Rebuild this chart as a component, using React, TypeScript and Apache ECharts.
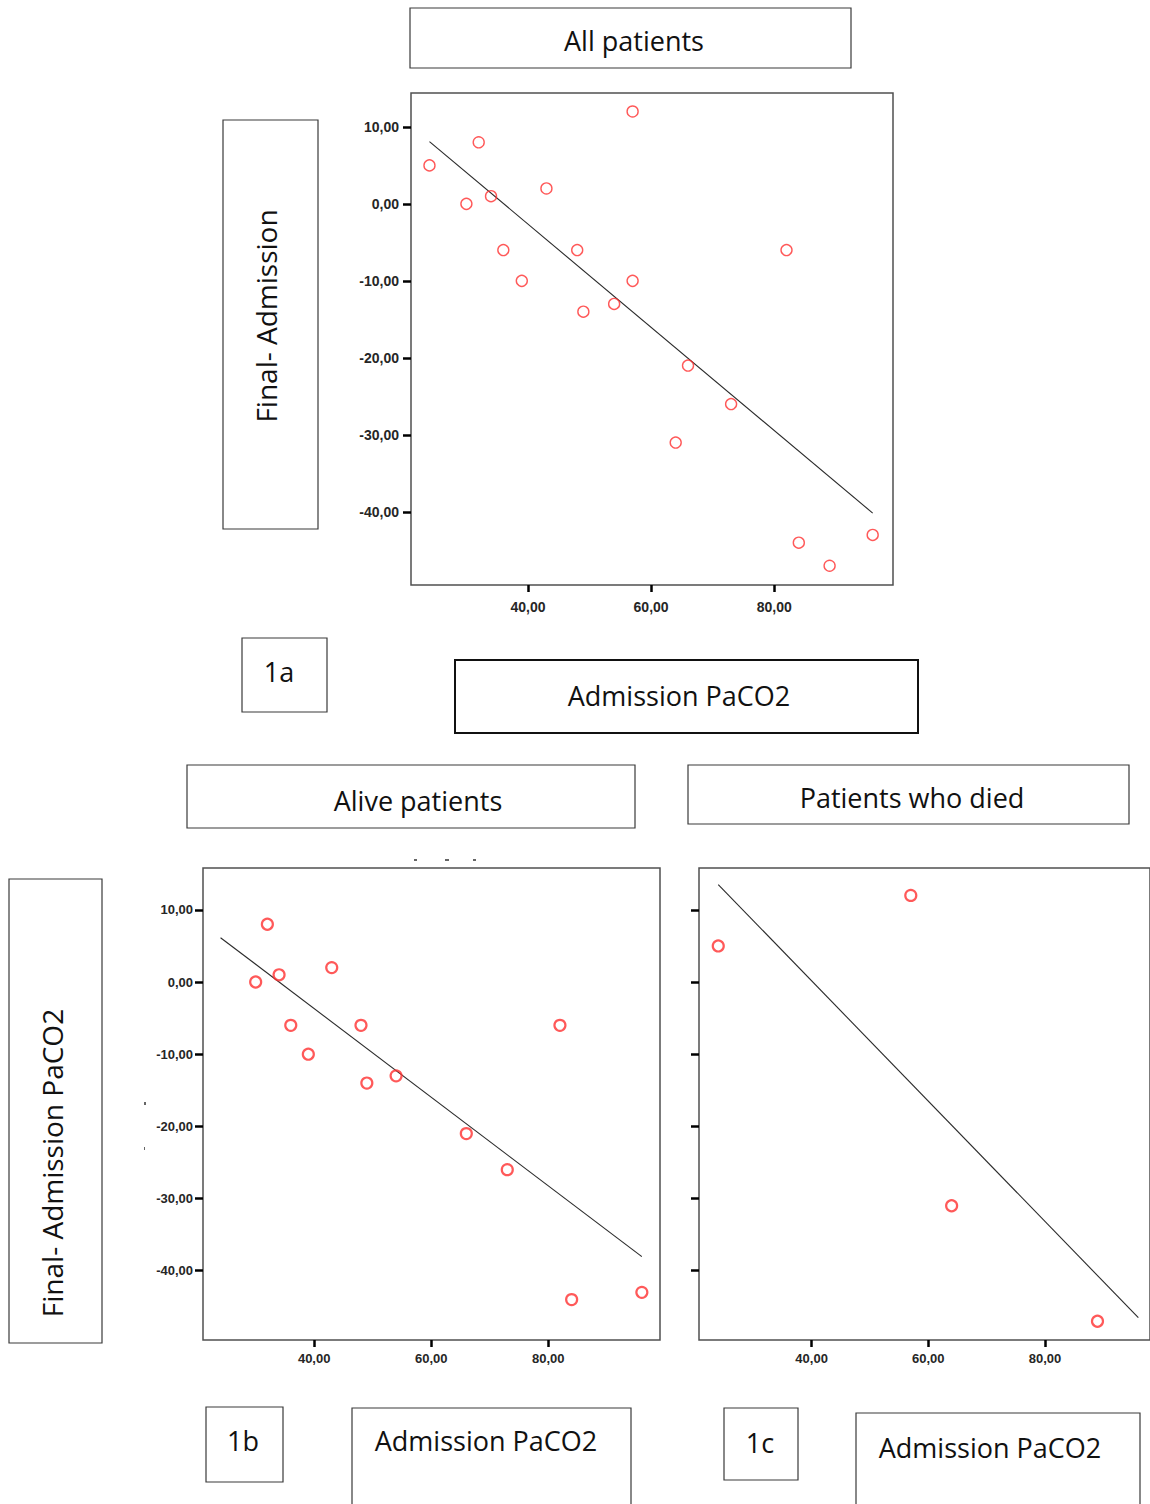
import React, { useEffect, useRef } from "react";
import * as echarts from "echarts";

// ---- Data ----
// 1a: all patients (Admission PaCO2, Final - Admission PaCO2)
const allX = [24, 30, 32, 34, 36, 39, 43, 48, 49, 54, 57, 57, 64, 66, 73, 82, 84, 89, 96];
const allY = [5, 0, 8, 1, -6, -10, 2, -6, -14, -13, 12, -10, -31, -21, -26, -6, -44, -47, -43];
// 1b: alive patients
const aliveX = [30, 32, 34, 36, 39, 43, 48, 49, 54, 66, 73, 82, 84, 96];
const aliveY = [0, 8, 1, -6, -10, 2, -6, -14, -13, -21, -26, -6, -44, -43];
// 1c: patients who died
const diedX = [24, 57, 64, 89];
const diedY = [5, 12, -31, -47];

// tick values
const xTicks = [40, 60, 80];
const yTicks = [10, 0, -10, -20, -30, -40];

const pairs = (xs: number[], ys: number[]) => xs.map((x, i) => [x, ys[i]]);

// least-squares fit line over the full admission range (as the original software draws it)
function fitLine(xs: number[], ys: number[], x0: number, x1: number) {
  const n = xs.length;
  const mx = xs.reduce((a, b) => a + b, 0) / n;
  const my = ys.reduce((a, b) => a + b, 0) / n;
  let sxy = 0;
  let sxx = 0;
  for (let i = 0; i < n; i++) {
    sxy += (xs[i] - mx) * (ys[i] - my);
    sxx += (xs[i] - mx) * (xs[i] - mx);
  }
  const b = sxy / sxx;
  const a = my - b * mx;
  return [
    [x0, a + b * x0],
    [x1, a + b * x1],
  ];
}

const fmt = (v: number) => v.toFixed(2).replace(".", ",");

const BOX_FONT = "'Open Sans', 'Noto Sans', sans-serif";
const TICK_FONT = "'Liberation Sans', Arial, sans-serif";

function box(x: number, y: number, w: number, h: number, lw = 1.2, stroke = "#3a3a3a") {
  return {
    type: "rect",
    shape: { x, y, width: w, height: h },
    style: { fill: "#fff", stroke, lineWidth: lw },
    z: 1,
  };
}
function label(text: string, x: number, y: number, size = 27, rotation = 0) {
  return {
    type: "text",
    x,
    y,
    rotation,
    style: {
      text,
      fill: "#111",
      fontSize: size,
      fontFamily: BOX_FONT,
      align: "center",
      verticalAlign: "middle",
    },
    z: 2,
  };
}
function speck(x: number, y: number, w: number, h: number) {
  return {
    type: "rect",
    shape: { x, y, width: w, height: h },
    style: { fill: "#666" },
    z: 2,
  };
}

export default function App() {
  const ref = useRef<HTMLDivElement>(null);

  useEffect(() => {
    if (!ref.current) return;
    const chart = echarts.init(ref.current, undefined, { renderer: "svg" });
    const x0 = Math.min(...allX);
    const x1 = Math.max(...allX);

    const gridBase = {
      show: true,
      borderColor: "#505050",
      borderWidth: 1.5,
      backgroundColor: "rgba(0,0,0,0)",
    };

    const xAxisFor = (gi: number, min: number, max: number, size: number, margin: number) => ({
      type: "value",
      gridIndex: gi,
      min,
      max,
      axisLine: { show: false, onZero: false },
      splitLine: { show: false },
      axisTick: {
        show: true,
        length: 7,
        customValues: xTicks,
        lineStyle: { color: "#000", width: 2.5 },
      },
      axisLabel: {
        customValues: xTicks,
        formatter: fmt,
        fontSize: size,
        fontWeight: "bold",
        fontFamily: TICK_FONT,
        color: "#262626",
        margin,
      },
    });
    const yAxisFor = (gi: number, min: number, max: number, size: number, margin: number, showLabel: boolean) => ({
      type: "value",
      gridIndex: gi,
      min,
      max,
      axisLine: { show: false, onZero: false },
      splitLine: { show: false },
      axisTick: {
        show: true,
        length: 8,
        customValues: yTicks,
        lineStyle: { color: "#000", width: 2.5 },
      },
      axisLabel: {
        show: showLabel,
        customValues: yTicks,
        formatter: fmt,
        fontSize: size,
        fontWeight: "bold",
        fontFamily: TICK_FONT,
        color: "#262626",
        margin,
      },
    });

    const scatter = (gi: number, data: number[][], size: number, bw: number) => ({
      type: "scatter",
      xAxisIndex: gi,
      yAxisIndex: gi,
      data,
      symbol: "circle",
      symbolSize: size,
      itemStyle: { color: "rgba(255,255,255,0)", borderColor: "#ff3030", borderWidth: bw },
      z: 3,
    });
    const line = (gi: number, data: number[][]) => ({
      type: "line",
      xAxisIndex: gi,
      yAxisIndex: gi,
      data,
      showSymbol: false,
      symbol: "none",
      lineStyle: { color: "#2a2a2a", width: 1.1 },
      z: 2,
    });

    const option = {
      animation: false,
      backgroundColor: "#fff",
      grid: [
        { ...gridBase, left: 411, top: 93, width: 482, height: 492 },
        { ...gridBase, left: 203, top: 868, width: 457, height: 472 },
        { ...gridBase, left: 699, top: 868, width: 452, height: 472 },
      ],
      xAxis: [
        xAxisFor(0, 21, 99.3, 14, 15),
        xAxisFor(1, 21, 99.1, 13, 12),
        xAxisFor(2, 20.7, 98, 13, 12),
      ],
      yAxis: [
        yAxisFor(0, -49.5, 14.4, 14, 12, true),
        yAxisFor(1, -49.6, 15.8, 13, 10, true),
        yAxisFor(2, -49.6, 15.8, 13, 10, false),
      ],
      series: [
        line(0, fitLine(allX, allY, x0, x1)),
        scatter(0, pairs(allX, allY), 11, 1.4),
        line(1, fitLine(aliveX, aliveY, x0, x1)),
        scatter(1, pairs(aliveX, aliveY), 11, 2.2),
        line(2, fitLine(diedX, diedY, x0, x1)),
        scatter(2, pairs(diedX, diedY), 11, 2.2),
      ],
      graphic: {
        elements: [
          box(410, 8, 441, 60),
          label("All patients", 634, 40),
          box(223, 120, 95, 409),
          label("Final- Admission", 266, 316, 28, Math.PI / 2),
          box(242, 638, 85, 74),
          label("1a", 279, 671),
          box(455, 660, 463, 73, 2, "#111"),
          label("Admission PaCO2", 679, 695),
          box(187, 765, 448, 63),
          label("Alive patients", 418, 800),
          box(688, 765, 441, 59),
          label("Patients who died", 912, 797),
          box(9, 879, 93, 464),
          label("Final- Admission PaCO2", 52, 1163, 28, Math.PI / 2),
          box(206, 1407, 77, 75),
          label("1b", 243, 1440),
          box(352, 1408, 279, 110),
          label("Admission PaCO2", 486, 1440),
          box(724, 1408, 74, 72),
          label("1c", 760, 1442),
          box(856, 1413, 284, 110),
          label("Admission PaCO2", 990, 1447),
          speck(414, 859, 3, 2),
          speck(445, 859, 4, 2),
          speck(473, 859, 3, 2),
          speck(144, 1102, 2, 3),
          speck(144, 1147, 1, 3),
        ],
      },
    };

    chart.setOption(option as any);
    return () => chart.dispose();
  }, []);

  return (
    <div
      ref={ref}
      style={{ position: "absolute", left: 0, top: 0, width: 1150, height: 1504, background: "#fff" }}
    />
  );
}
